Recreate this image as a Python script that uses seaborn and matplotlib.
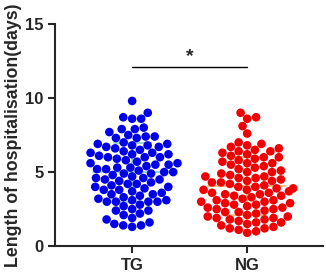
import matplotlib
matplotlib.use("Agg")
import matplotlib.pyplot as plt
import numpy as np
import pandas as pd
import seaborn as sns

#%% Data
groups = ["TG", "NG"]
tg_days = [9.8, 9.0, 8.7, 8.6, 8.6, 8.0, 7.9, 7.9, 7.7, 7.5, 7.4, 7.4, 7.3, 7.3,
           7.0, 6.9, 6.9, 6.8, 6.8, 6.7, 6.7, 6.6, 6.5,
           6.4, 6.3, 6.3, 6.2, 6.2, 6.1, 6.0, 6.0, 6.0, 5.9,
           5.8, 5.7, 5.6, 5.6, 5.5, 5.5, 5.4, 5.3, 5.3, 5.2, 5.2,
           5.1, 5.0, 5.0, 4.9, 4.9, 4.8, 4.7, 4.6, 4.6, 4.5, 4.5,
           4.4, 4.3, 4.2, 4.2, 4.1, 4.0, 4.0, 3.9, 3.8, 3.8,
           3.7, 3.6, 3.5, 3.5, 3.4, 3.3, 3.2, 3.1, 3.1, 3.0, 3.0, 3.0, 3.0,
           2.8, 2.7, 2.5, 2.4, 2.4, 2.2, 2.1,
           1.9, 1.8, 1.6, 1.5, 1.4, 1.4, 1.3]
ng_days = [9.0, 8.7, 8.6, 8.1, 7.6,
           7.0, 6.9, 6.8, 6.7, 6.6, 6.5, 6.4, 6.4, 6.3, 6.2, 6.1, 6.0, 6.0,
           5.9, 5.8, 5.7, 5.6, 5.6, 5.5, 5.4, 5.3, 5.2, 5.1, 5.0, 5.0,
           4.9, 4.8, 4.7, 4.7, 4.6, 4.6, 4.5, 4.4, 4.4, 4.3, 4.3, 4.2, 4.1, 4.0, 4.0,
           3.9, 3.9, 3.8, 3.8, 3.7, 3.6, 3.6, 3.5, 3.5, 3.4, 3.4, 3.3, 3.2, 3.1, 3.1, 3.0, 3.0,
           2.9, 2.9, 2.8, 2.8, 2.7, 2.6, 2.6, 2.5, 2.5, 2.4, 2.3, 2.3, 2.2, 2.1, 2.0, 2.0,
           1.9, 1.9, 1.8, 1.8, 1.7, 1.6, 1.6, 1.5, 1.4, 1.3, 1.2, 1.2, 1.1, 1.0, 0.9]
dot_colors = {"TG": "#0000e6", "NG": "#f00000"}
bar_colors = {"TG": "#7fd3c6", "NG": "#f7b77a"}
yticks = [0, 5, 10, 15]

data = pd.DataFrame({
    "group": ["TG"] * len(tg_days) + ["NG"] * len(ng_days),
    "days": tg_days + ng_days,
})

#%% Figure
sns.set_style("ticks")
plt.rcParams["font.family"] = ["Liberation Sans", "DejaVu Sans"]
plt.rcParams["font.weight"] = "bold"

fig = plt.figure(figsize=(3.26, 2.75), dpi=100)
ax = fig.add_axes([0.169, 0.105, 0.822, 0.808])

# mean +/- SD lines behind the dots
for i, g in enumerate(groups):
    vals = data.loc[data["group"] == g, "days"]
    m, s = vals.mean(), vals.std()
    c = bar_colors[g]
    ax.plot([i - 0.34, i + 0.34], [m, m], color=c, lw=1.2, zorder=1)
    ax.plot([i - 0.16, i + 0.16], [m + s, m + s], color=c, lw=1.2, zorder=1)
    ax.plot([i - 0.16, i + 0.16], [m - s, m - s], color=c, lw=1.2, zorder=1)
    ax.plot([i, i], [m - s, m + s], color=c, lw=1.2, zorder=1)

sns.swarmplot(data=data, x="group", y="days", hue="group", order=groups,
              palette=dot_colors, size=6.2, linewidth=0, legend=False, ax=ax, zorder=3)

# significance bar
ax.plot([0, 1], [12.1, 12.1], color="black", lw=1)
ax.text(0.5, 12.25, "*", ha="center", va="bottom", fontsize=14, fontweight="bold")

ax.set_xlim(-0.67, 1.66)
ax.set_ylim(0, 15)
ax.set_yticks(yticks)
ax.set_xlabel("")
ax.set_ylabel("Length of hospitalisation(days)", fontsize=12.8, fontweight="bold", labelpad=2)
ax.tick_params(axis="both", labelsize=12, width=1.5, length=5)
for lab in ax.get_xticklabels() + ax.get_yticklabels():
    lab.set_fontweight("bold")
sns.despine(ax=ax)
for sp in ["left", "bottom"]:
    ax.spines[sp].set_linewidth(1.5)

fig.savefig("out.png", dpi=100)
